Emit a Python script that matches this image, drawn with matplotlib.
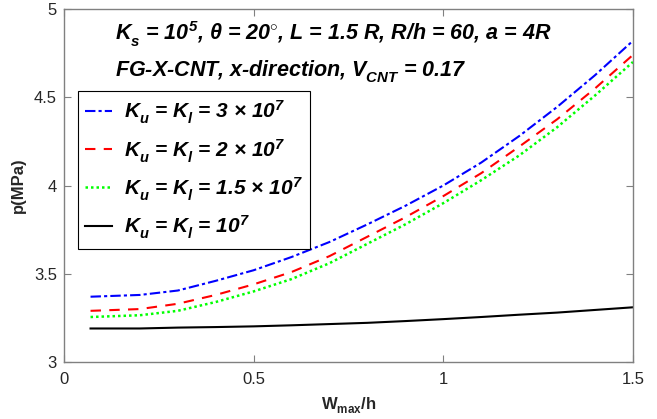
import numpy as np
import matplotlib
matplotlib.use("Agg")
import matplotlib.pyplot as plt
import matplotlib._mathtext as mathtext_internals

# Bold italic Arial-like text everywhere, math included
plt.rcParams["font.family"] = ["Liberation Sans", "DejaVu Sans"]
plt.rcParams["mathtext.fontset"] = "custom"
plt.rcParams["mathtext.rm"] = "Liberation Sans:bold:italic"
plt.rcParams["mathtext.it"] = "Liberation Sans:bold:italic"
plt.rcParams["mathtext.bf"] = "Liberation Sans:bold:italic"
# deeper subscripts, closer to the TeX interpreter look
mathtext_internals.FontConstantsBase.sub1 = 0.55
mathtext_internals.FontConstantsBase.sub2 = 0.75

# Deflection ratio and pressure curves for each foundation stiffness
w_h = [0.07, 0.2, 0.3, 0.4, 0.5, 0.6, 0.7, 0.8, 0.9, 1.0, 1.1, 1.2, 1.3, 1.4, 1.5]
p_k3e7 = [3.37, 3.38, 3.405, 3.46, 3.52, 3.595, 3.68, 3.78, 3.885, 4.0, 4.13, 4.28, 4.445, 4.625, 4.82]
p_k2e7 = [3.29, 3.30, 3.33, 3.38, 3.44, 3.51, 3.60, 3.71, 3.82, 3.94, 4.07, 4.22, 4.375, 4.55, 4.74]
p_k15e7 = [3.255, 3.265, 3.29, 3.34, 3.40, 3.47, 3.56, 3.67, 3.78, 3.90, 4.03, 4.17, 4.33, 4.51, 4.70]
p_k1e7 = [3.19, 3.19, 3.195, 3.198, 3.202, 3.208, 3.215, 3.222, 3.232, 3.243, 3.255, 3.268, 3.28, 3.295, 3.31]

labels = [r"$K_u$ = $K_l$ = 3 $\times$ 10$^7$",
          r"$K_u$ = $K_l$ = 2 $\times$ 10$^7$",
          r"$K_u$ = $K_l$ = 1.5 $\times$ 10$^7$",
          r"$K_u$ = $K_l$ = 10$^7$"]

fig = plt.figure(figsize=(6.57, 4.19), dpi=100)
ax = fig.add_axes([0.0974, 0.136, 0.866, 0.8425])

ax.plot(w_h, p_k3e7, color=(0, 0, 1), lw=1.5, dashes=(5, 1.5, 1.5, 1.5), label=labels[0])
ax.plot(w_h, p_k2e7, color=(1, 0, 0), lw=1.5, dashes=(5, 4), label=labels[1])
ax.plot(w_h, p_k15e7, color=(0, 1, 0), lw=1.8, dashes=(1, 1.2), label=labels[2])
ax.plot(w_h, p_k1e7, color="k", lw=1.5, label=labels[3])

ax.set_xlim(0, 1.5)
ax.set_ylim(3, 5)
ax.set_xticks([0, 0.5, 1, 1.5])
ax.set_xticklabels(["0", "0.5", "1", "1.5"])
ax.set_yticks([3, 3.5, 4, 4.5, 5])
ax.set_yticklabels(["3", "3.5", "4", "4.5", "5"])
ax.tick_params(direction="in", top=True, right=True, length=5, width=0.8,
               color="#808080", labelsize=12, labelcolor="#262626")
ax.tick_params(axis="x", pad=7)
ax.tick_params(axis="y", pad=5)
for s in ax.spines.values():
    s.set_color("#808080")
    s.set_linewidth(1.0)

ax.set_xlabel(r"W$_{\mathregular{max}}$/h", fontsize=12, fontweight="bold",
              color="#262626", labelpad=6)
ax.set_ylabel("p(MPa)", fontsize=12, fontweight="bold", color="#262626", labelpad=6)

ax.text(0.0896, 0.912,
        r"$K_s$ = 10$^5$, $\theta$ = 20$^{\circ}$, L = 1.5 R, R/h = 60, a = 4R",
        transform=ax.transAxes, fontsize=15.5, fontweight="bold", style="italic",
        va="baseline")
ax.text(0.0896, 0.809, r"FG-X-CNT, x-direction, $V_{CNT}$ = 0.17",
        transform=ax.transAxes, fontsize=15.5, fontweight="bold", style="italic",
        va="baseline")

leg = ax.legend(loc="upper left", bbox_to_anchor=(0.0246, 0.768), borderaxespad=0,
                fancybox=False, framealpha=1, edgecolor="k", handlelength=1.3,
                handletextpad=0.55, labelspacing=0.5, borderpad=0.35,
                prop={"size": 15, "weight": "bold", "style": "italic"})
leg.get_frame().set_linewidth(0.8)

fig.savefig("out.png", dpi=100)
